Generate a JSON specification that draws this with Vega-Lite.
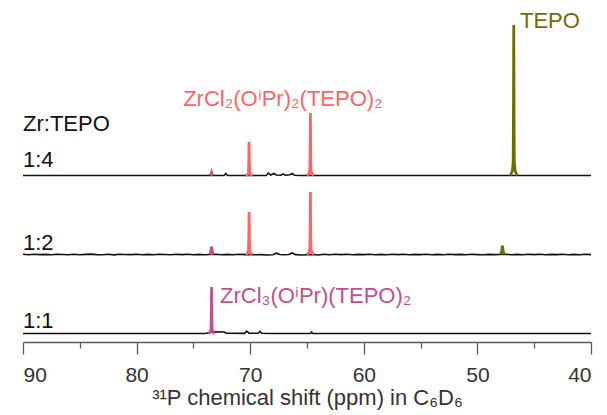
{
  "$schema": "https://vega.github.io/schema/vega-lite/v6.json",
  "autosize": "none",
  "width": 568,
  "height": 342,
  "padding": {"left": 23, "top": 0, "right": 16, "bottom": 73},
  "background": "white",
  "config": {"view": {"stroke": null}, "font": "Liberation Sans"},
  "datasets": {
    "spec": [
      {"s": "b14", "k": "base", "x": 90, "y": 166.5},
      {"s": "b14", "k": "base", "x": 80, "y": 166.5},
      {"s": "b14", "k": "base", "x": 74, "y": 166.5},
      {"s": "b14", "k": "base", "x": 72.3, "y": 166.5},
      {"s": "b14", "k": "base", "x": 72.15, "y": 168.5},
      {"s": "b14", "k": "base", "x": 72.0, "y": 166.5},
      {"s": "b14", "k": "base", "x": 71, "y": 166.5},
      {"s": "b14", "k": "base", "x": 68.6, "y": 166.5},
      {"s": "b14", "k": "base", "x": 68.4, "y": 169.0},
      {"s": "b14", "k": "base", "x": 68.2, "y": 167.0},
      {"s": "b14", "k": "base", "x": 67.9, "y": 168.5},
      {"s": "b14", "k": "base", "x": 67.7, "y": 167.0},
      {"s": "b14", "k": "base", "x": 67.3, "y": 166.7},
      {"s": "b14", "k": "base", "x": 67.1, "y": 168.0},
      {"s": "b14", "k": "base", "x": 66.9, "y": 166.8},
      {"s": "b14", "k": "base", "x": 66.5, "y": 167.2},
      {"s": "b14", "k": "base", "x": 66.3, "y": 168.5},
      {"s": "b14", "k": "base", "x": 66.1, "y": 166.8},
      {"s": "b14", "k": "base", "x": 65.6, "y": 166.5},
      {"s": "b14", "k": "base", "x": 60, "y": 166.5},
      {"s": "b14", "k": "base", "x": 50, "y": 166.5},
      {"s": "b14", "k": "base", "x": 40, "y": 166.5},

      {"s": "b11", "k": "base", "x": 90, "y": 8.5},
      {"s": "b11", "k": "base", "x": 74, "y": 8.5},
      {"s": "b11", "k": "base", "x": 73.2, "y": 10.2},
      {"s": "b11", "k": "base", "x": 72.3, "y": 10.0},
      {"s": "b11", "k": "base", "x": 72.1, "y": 8.7},
      {"s": "b11", "k": "base", "x": 70.5, "y": 8.6},
      {"s": "b11", "k": "base", "x": 70.3, "y": 10.8},
      {"s": "b11", "k": "base", "x": 70.1, "y": 8.8},
      {"s": "b11", "k": "base", "x": 69.3, "y": 8.8},
      {"s": "b11", "k": "base", "x": 69.15, "y": 10.6},
      {"s": "b11", "k": "base", "x": 69.0, "y": 8.8},
      {"s": "b11", "k": "base", "x": 68.0, "y": 8.5},
      {"s": "b11", "k": "base", "x": 64.7, "y": 8.5},
      {"s": "b11", "k": "base", "x": 64.6, "y": 10.0},
      {"s": "b11", "k": "base", "x": 64.5, "y": 8.5},
      {"s": "b11", "k": "base", "x": 40, "y": 8.5},

      {"s": "b12", "k": "base", "x": 90, "y": 87.7},
      {"s": "b12", "k": "base", "x": 89.5, "y": 87.3},
      {"s": "b12", "k": "base", "x": 89, "y": 87.8},
      {"s": "b12", "k": "base", "x": 88.5, "y": 87.4},
      {"s": "b12", "k": "base", "x": 88, "y": 87.6},
      {"s": "b12", "k": "base", "x": 87.5, "y": 87.2},
      {"s": "b12", "k": "base", "x": 87, "y": 87.7},
      {"s": "b12", "k": "base", "x": 86.5, "y": 87.5},
      {"s": "b12", "k": "base", "x": 86, "y": 87.3},
      {"s": "b12", "k": "base", "x": 85.5, "y": 87.8},
      {"s": "b12", "k": "base", "x": 85, "y": 87.2},
      {"s": "b12", "k": "base", "x": 84.5, "y": 87.6},
      {"s": "b12", "k": "base", "x": 84, "y": 87.9},
      {"s": "b12", "k": "base", "x": 83.5, "y": 87.4},
      {"s": "b12", "k": "base", "x": 83, "y": 87.3},
      {"s": "b12", "k": "base", "x": 82.5, "y": 87.7},
      {"s": "b12", "k": "base", "x": 82, "y": 87.1},
      {"s": "b12", "k": "base", "x": 81.5, "y": 87.8},
      {"s": "b12", "k": "base", "x": 81, "y": 87.5},
      {"s": "b12", "k": "base", "x": 80.5, "y": 87.4},
      {"s": "b12", "k": "base", "x": 80, "y": 87.7},
      {"s": "b12", "k": "base", "x": 79.5, "y": 87.3},
      {"s": "b12", "k": "base", "x": 79, "y": 87.6},
      {"s": "b12", "k": "base", "x": 78.5, "y": 87.2},
      {"s": "b12", "k": "base", "x": 78, "y": 87.8},
      {"s": "b12", "k": "base", "x": 77.5, "y": 87.5},
      {"s": "b12", "k": "base", "x": 77, "y": 87.2},
      {"s": "b12", "k": "base", "x": 76.5, "y": 87.7},
      {"s": "b12", "k": "base", "x": 76, "y": 87.4},
      {"s": "b12", "k": "base", "x": 75.5, "y": 87.8},
      {"s": "b12", "k": "base", "x": 75, "y": 87.3},
      {"s": "b12", "k": "base", "x": 74.5, "y": 87.6},
      {"s": "b12", "k": "base", "x": 74, "y": 87.3},
      {"s": "b12", "k": "base", "x": 73.5, "y": 87.5},
      {"s": "b12", "k": "base", "x": 73, "y": 87.7},
      {"s": "b12", "k": "base", "x": 72.5, "y": 87.2},
      {"s": "b12", "k": "base", "x": 72, "y": 87.6},
      {"s": "b12", "k": "base", "x": 71.5, "y": 87.3},
      {"s": "b12", "k": "base", "x": 71, "y": 87.7},
      {"s": "b12", "k": "base", "x": 70.5, "y": 87.4},
      {"s": "b12", "k": "base", "x": 70, "y": 87.5},
      {"s": "b12", "k": "base", "x": 69.5, "y": 87.2},
      {"s": "b12", "k": "base", "x": 69, "y": 87.4},
      {"s": "b12", "k": "base", "x": 68.5, "y": 87.0},
      {"s": "b12", "k": "base", "x": 68, "y": 87.3},
      {"s": "b12", "k": "base", "x": 67.7, "y": 88.8},
      {"s": "b12", "k": "base", "x": 67.4, "y": 87.5},
      {"s": "b12", "k": "base", "x": 67, "y": 87.3},
      {"s": "b12", "k": "base", "x": 66.6, "y": 87.5},
      {"s": "b12", "k": "base", "x": 66.3, "y": 89.0},
      {"s": "b12", "k": "base", "x": 66, "y": 87.4},
      {"s": "b12", "k": "base", "x": 65.5, "y": 87.0},
      {"s": "b12", "k": "base", "x": 65, "y": 87.3},
      {"s": "b12", "k": "base", "x": 64.5, "y": 87.5},
      {"s": "b12", "k": "base", "x": 64, "y": 87.0},
      {"s": "b12", "k": "base", "x": 63.5, "y": 87.7},
      {"s": "b12", "k": "base", "x": 63, "y": 87.3},
      {"s": "b12", "k": "base", "x": 62.5, "y": 87.7},
      {"s": "b12", "k": "base", "x": 62, "y": 87.4},
      {"s": "b12", "k": "base", "x": 61.5, "y": 87.8},
      {"s": "b12", "k": "base", "x": 61, "y": 87.3},
      {"s": "b12", "k": "base", "x": 60.5, "y": 87.6},
      {"s": "b12", "k": "base", "x": 60, "y": 87.4},
      {"s": "b12", "k": "base", "x": 59.5, "y": 87.8},
      {"s": "b12", "k": "base", "x": 59, "y": 87.3},
      {"s": "b12", "k": "base", "x": 58.5, "y": 87.6},
      {"s": "b12", "k": "base", "x": 58, "y": 87.2},
      {"s": "b12", "k": "base", "x": 57.5, "y": 87.7},
      {"s": "b12", "k": "base", "x": 57, "y": 87.4},
      {"s": "b12", "k": "base", "x": 56.5, "y": 87.8},
      {"s": "b12", "k": "base", "x": 56, "y": 87.3},
      {"s": "b12", "k": "base", "x": 55.5, "y": 87.6},
      {"s": "b12", "k": "base", "x": 55, "y": 87.4},
      {"s": "b12", "k": "base", "x": 54.5, "y": 87.8},
      {"s": "b12", "k": "base", "x": 54, "y": 87.3},
      {"s": "b12", "k": "base", "x": 53.5, "y": 87.6},
      {"s": "b12", "k": "base", "x": 53, "y": 87.2},
      {"s": "b12", "k": "base", "x": 52.5, "y": 87.7},
      {"s": "b12", "k": "base", "x": 52, "y": 87.4},
      {"s": "b12", "k": "base", "x": 51.5, "y": 87.6},
      {"s": "b12", "k": "base", "x": 51, "y": 87.3},
      {"s": "b12", "k": "base", "x": 50.5, "y": 87.7},
      {"s": "b12", "k": "base", "x": 50, "y": 87.4},
      {"s": "b12", "k": "base", "x": 49.5, "y": 87.2},
      {"s": "b12", "k": "base", "x": 49, "y": 87.6},
      {"s": "b12", "k": "base", "x": 48.5, "y": 87.4},
      {"s": "b12", "k": "base", "x": 48, "y": 87.5},
      {"s": "b12", "k": "base", "x": 47.5, "y": 87.7},
      {"s": "b12", "k": "base", "x": 47, "y": 87.3},
      {"s": "b12", "k": "base", "x": 46.5, "y": 87.6},
      {"s": "b12", "k": "base", "x": 46, "y": 87.2},
      {"s": "b12", "k": "base", "x": 45.5, "y": 87.7},
      {"s": "b12", "k": "base", "x": 45, "y": 87.4},
      {"s": "b12", "k": "base", "x": 44.5, "y": 87.8},
      {"s": "b12", "k": "base", "x": 44, "y": 87.3},
      {"s": "b12", "k": "base", "x": 43.5, "y": 87.6},
      {"s": "b12", "k": "base", "x": 43, "y": 87.4},
      {"s": "b12", "k": "base", "x": 42.5, "y": 87.8},
      {"s": "b12", "k": "base", "x": 42, "y": 87.3},
      {"s": "b12", "k": "base", "x": 41.5, "y": 87.6},
      {"s": "b12", "k": "base", "x": 41, "y": 87.3},
      {"s": "b12", "k": "base", "x": 40.5, "y": 87.7},
      {"s": "b12", "k": "base", "x": 40, "y": 87.4},

      {"s": "p14a", "k": "olive", "x": 47.1, "y": 166.5},
      {"s": "p14a", "k": "olive", "x": 46.92, "y": 171.0},
      {"s": "p14a", "k": "olive", "x": 46.85, "y": 180.0},
      {"s": "p14a", "k": "olive", "x": 46.822, "y": 234.2},
      {"s": "p14a", "k": "olive", "x": 46.8, "y": 317},
      {"s": "p14a", "k": "olive", "x": 46.778, "y": 234.2},
      {"s": "p14a", "k": "olive", "x": 46.75, "y": 180.0},
      {"s": "p14a", "k": "olive", "x": 46.68, "y": 171.0},
      {"s": "p14a", "k": "olive", "x": 46.5, "y": 166.5},

      {"s": "p14b", "k": "red", "x": 65.0, "y": 166.5},
      {"s": "p14b", "k": "red", "x": 64.82, "y": 168.4},
      {"s": "p14b", "k": "red", "x": 64.75, "y": 172.1},
      {"s": "p14b", "k": "red", "x": 64.722, "y": 194.6},
      {"s": "p14b", "k": "red", "x": 64.7, "y": 229},
      {"s": "p14b", "k": "red", "x": 64.678, "y": 194.6},
      {"s": "p14b", "k": "red", "x": 64.65, "y": 172.1},
      {"s": "p14b", "k": "red", "x": 64.58, "y": 168.4},
      {"s": "p14b", "k": "red", "x": 64.4, "y": 166.5},

      {"s": "p14c", "k": "red", "x": 70.4, "y": 166.5},
      {"s": "p14c", "k": "red", "x": 70.22, "y": 167.5},
      {"s": "p14c", "k": "red", "x": 70.15, "y": 169.5},
      {"s": "p14c", "k": "red", "x": 70.122, "y": 181.6},
      {"s": "p14c", "k": "red", "x": 70.1, "y": 200},
      {"s": "p14c", "k": "red", "x": 70.078, "y": 181.6},
      {"s": "p14c", "k": "red", "x": 70.05, "y": 169.5},
      {"s": "p14c", "k": "red", "x": 69.98, "y": 167.5},
      {"s": "p14c", "k": "red", "x": 69.8, "y": 166.5},

      {"s": "p14d", "k": "magenta", "x": 73.52, "y": 166.5},
      {"s": "p14d", "k": "magenta", "x": 73.44, "y": 168},
      {"s": "p14d", "k": "magenta", "x": 73.4, "y": 169.5},
      {"s": "p14d", "k": "magenta", "x": 73.36, "y": 168},
      {"s": "p14d", "k": "magenta", "x": 73.28, "y": 166.5},

      {"s": "p12a", "k": "red", "x": 65.0, "y": 87.5},
      {"s": "p12a", "k": "red", "x": 64.82, "y": 89.4},
      {"s": "p12a", "k": "red", "x": 64.75, "y": 93.1},
      {"s": "p12a", "k": "red", "x": 64.722, "y": 115.6},
      {"s": "p12a", "k": "red", "x": 64.7, "y": 150},
      {"s": "p12a", "k": "red", "x": 64.678, "y": 115.6},
      {"s": "p12a", "k": "red", "x": 64.65, "y": 93.1},
      {"s": "p12a", "k": "red", "x": 64.58, "y": 89.4},
      {"s": "p12a", "k": "red", "x": 64.4, "y": 87.5},

      {"s": "p12b", "k": "red", "x": 70.4, "y": 87.5},
      {"s": "p12b", "k": "red", "x": 70.22, "y": 88.8},
      {"s": "p12b", "k": "red", "x": 70.15, "y": 91.3},
      {"s": "p12b", "k": "red", "x": 70.122, "y": 106.6},
      {"s": "p12b", "k": "red", "x": 70.1, "y": 130},
      {"s": "p12b", "k": "red", "x": 70.078, "y": 106.6},
      {"s": "p12b", "k": "red", "x": 70.05, "y": 91.3},
      {"s": "p12b", "k": "red", "x": 69.98, "y": 88.8},
      {"s": "p12b", "k": "red", "x": 69.8, "y": 87.5},

      {"s": "p12c", "k": "magenta", "x": 73.55, "y": 87.5},
      {"s": "p12c", "k": "magenta", "x": 73.46, "y": 91},
      {"s": "p12c", "k": "magenta", "x": 73.42, "y": 94},
      {"s": "p12c", "k": "magenta", "x": 73.38, "y": 94},
      {"s": "p12c", "k": "magenta", "x": 73.34, "y": 91},
      {"s": "p12c", "k": "magenta", "x": 73.25, "y": 87.5},

      {"s": "p12d", "k": "olive", "x": 47.95, "y": 87.5},
      {"s": "p12d", "k": "olive", "x": 47.86, "y": 91.5},
      {"s": "p12d", "k": "olive", "x": 47.82, "y": 95},
      {"s": "p12d", "k": "olive", "x": 47.78, "y": 95},
      {"s": "p12d", "k": "olive", "x": 47.74, "y": 91.5},
      {"s": "p12d", "k": "olive", "x": 47.65, "y": 87.5},

      {"s": "p11a", "k": "magenta", "x": 73.7, "y": 8.5},
      {"s": "p11a", "k": "magenta", "x": 73.52, "y": 9.9},
      {"s": "p11a", "k": "magenta", "x": 73.45, "y": 12.7},
      {"s": "p11a", "k": "magenta", "x": 73.422, "y": 29.4},
      {"s": "p11a", "k": "magenta", "x": 73.4, "y": 55},
      {"s": "p11a", "k": "magenta", "x": 73.378, "y": 29.4},
      {"s": "p11a", "k": "magenta", "x": 73.35, "y": 12.7},
      {"s": "p11a", "k": "magenta", "x": 73.28, "y": 9.9},
      {"s": "p11a", "k": "magenta", "x": 73.1, "y": 8.5}
    ],
    "labels": [
      {"t": "TEPO", "k": "olive", "x": 46.25, "y": 314},
      {"t": "ZrCl₂(OⁱPr)₂(TEPO)₂", "k": "red", "x": 75.9, "y": 236},
      {"t": "ZrCl₃(OⁱPr)(TEPO)₂", "k": "magenta", "x": 72.66, "y": 39},
      {"t": "Zr:TEPO", "k": "base", "x": 90, "y": 211},
      {"t": "1:4", "k": "base", "x": 90, "y": 175},
      {"t": "1:2", "k": "base", "x": 90, "y": 92},
      {"t": "1:1", "k": "base", "x": 90, "y": 14}
    ]
  },
  "encoding": {
    "y": {
      "field": "y", "type": "quantitative",
      "scale": {"domain": [0, 342], "nice": false, "zero": false},
      "axis": null
    },
    "color": {
      "field": "k", "type": "nominal",
      "scale": {"domain": ["base", "red", "magenta", "olive"], "range": ["#111111", "#FF6464", "#C24F8E", "#6E6E00"]},
      "legend": null
    }
  },
  "layer": [
    {
      "data": {"name": "spec"},
      "transform": [{"filter": "datum.k === 'base'"}],
      "mark": {"type": "line", "strokeWidth": 1.6, "interpolate": "linear"},
      "encoding": {
        "x": {
          "field": "x", "type": "quantitative",
          "scale": {"domain": [40, 90], "reverse": true, "nice": false, "zero": false},
          "axis": {
            "orient": "bottom",
            "values": [90, 80, 70, 60, 50, 40],
            "tickSize": 12,
            "grid": false,
            "domainColor": "#595959",
            "domainWidth": 1.3,
            "tickColor": "#595959",
            "tickWidth": 1.3,
            "labelFontSize": 21,
            "labelColor": "#333333",
            "labelPadding": 10,
            "labelFont": "Liberation Sans",
            "title": "³¹P chemical shift (ppm) in C₆D₆",
            "titleFont": "Liberation Sans",
            "titleFontSize": 22,
            "titleFontWeight": "normal",
            "titleColor": "#333333",
            "titlePadding": 2
          }
        },
        "detail": {"field": "s"}, "order": {"field": "x", "type": "quantitative"}}
    },
    {
      "data": {"name": "spec"},
      "transform": [{"filter": "datum.k !== 'base'"}],
      "mark": {"type": "line", "strokeWidth": 2.8, "interpolate": "linear"},
      "encoding": {
        "x": {"field": "x", "type": "quantitative", "axis": null},
        "detail": {"field": "s"}, "order": {"field": "x", "type": "quantitative"}}
    },
    {
      "data": {"name": "labels"},
      "mark": {"type": "text", "align": "left", "baseline": "alphabetic", "fontSize": 22, "font": "Liberation Sans"},
      "encoding": {
        "x": {
          "field": "x", "type": "quantitative",
          "axis": {
            "orient": "bottom",
            "values": [85, 75, 65, 55, 45],
            "tickSize": 6,
            "labels": false,
            "domain": false,
            "grid": false,
            "tickColor": "#595959",
            "tickWidth": 1.3,
            "title": null
          }
        },
        "text": {"field": "t"}
      }
    }
  ],
  "resolve": {"axis": {"x": "independent"}}
}
